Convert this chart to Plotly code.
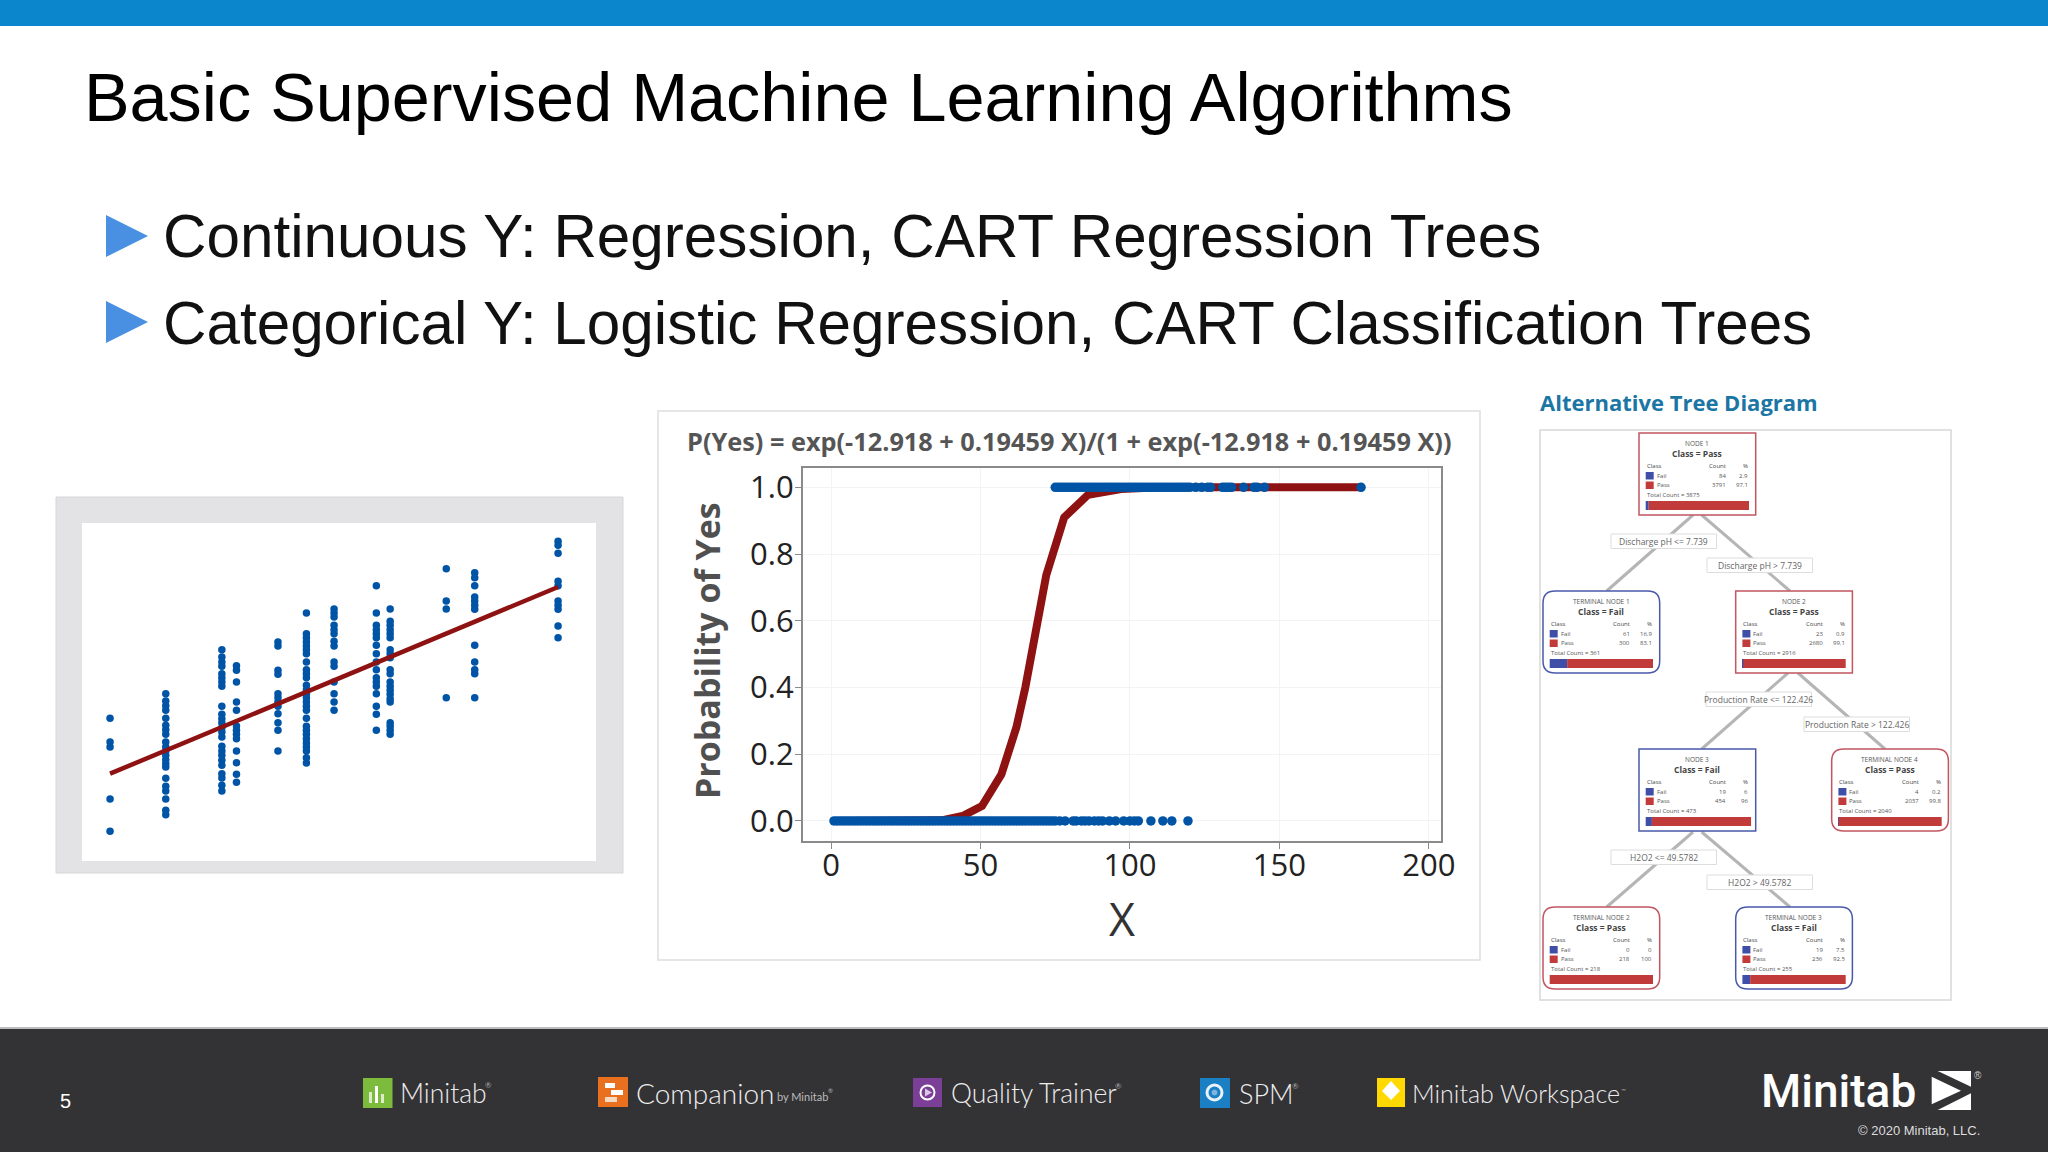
import plotly.graph_objects as go

W = 2048
H = 1152

# slide text
slide_title = "Basic Supervised Machine Learning Algorithms"
bullets = ["Continuous Y: Regression, CART Regression Trees",
           "Categorical Y: Logistic Regression, CART Classification Trees"]

# left scatter (no scale shown in the picture, units are arbitrary)
col_x = [177, 318, 460, 497, 602, 674, 744, 851, 886, 1028, 1100, 1311]
col_1 = [428, 357, 342, 186, 89]
col_2 = [502, 480, 466, 452, 428, 407, 394, 380, 357, 342, 330, 317, 304, 292, 282, 248, 224, 210, 186, 152, 139]
col_3 = [634, 612, 597, 584, 562, 550, 537, 524, 464, 440, 427, 414, 400, 387, 372, 344, 330, 317, 302, 287, 262, 249, 227, 210]
col_4 = [586, 572, 537, 477, 452, 405, 392, 380, 367, 330, 295, 260, 236]
col_5 = [657, 645, 572, 560, 502, 490, 477, 464, 442, 415, 392, 330]
col_6 = [744, 682, 670, 657, 645, 634, 622, 597, 574, 562, 550, 527, 514, 502, 490, 477, 464, 452, 428, 404, 392, 380, 367, 354, 342, 330, 310, 294]
col_7 = [756, 744, 732, 707, 694, 682, 659, 645, 597, 584, 537, 502, 477, 452]
col_8 = [826, 744, 707, 694, 682, 670, 647, 622, 597, 574, 550, 537, 524, 502, 464, 440, 392]
col_9 = [756, 719, 707, 694, 682, 670, 634, 622, 610, 574, 562, 537, 524, 512, 500, 487, 477, 415, 404, 392, 380]
col_10 = [877, 780, 756, 490]
col_11 = [865, 850, 826, 792, 780, 767, 755, 647, 597, 574, 562, 490]
col_12 = [959, 947, 923, 839, 826, 780, 767, 755, 705, 670]
columns = [col_1, col_2, col_3, col_4, col_5, col_6, col_7, col_8, col_9, col_10, col_11, col_12]
fit_x = [177, 460, 744, 1028, 1311]
fit_y = [262, 402, 542, 682, 822]

# logistic chart
logit_title = "P(Yes) = exp(-12.918 + 0.19459 X)/(1 + exp(-12.918 + 0.19459 X))"
curve_x = [1, 37, 44, 50.5, 57, 62, 65, 69, 72, 78, 86, 97, 110, 178]
curve_p = [0, 0.002, 0.015, 0.045, 0.14, 0.28, 0.40, 0.607, 0.737, 0.91, 0.978, 0.995, 1, 1]
no_x = [1, 2, 3, 4, 5, 6, 7, 8, 9, 10, 11, 12, 13, 14, 15, 16, 17, 18, 19, 20, 21, 22, 23, 24, 25,
        26, 27, 28, 29, 30, 31, 32, 33, 34, 35, 36, 37, 38, 39, 40, 41, 42, 43, 44, 45, 46, 47, 48, 49,
        50, 51, 52, 53, 54, 55, 56, 57, 58, 59, 60, 61, 62, 63, 64, 65, 66, 67, 68, 69, 70, 71, 72, 73,
        74, 75, 76.5, 78.3, 81, 82, 83.8, 85, 86.3, 88.1, 89.5, 90.8, 93.1, 95.2, 97.9, 100, 101.5,
        102.8, 107, 111, 114, 119.4]
yes_x = [75, 76, 77, 78, 79, 80, 81, 82, 83, 84, 85, 86, 87, 88, 89, 90, 91, 92, 93, 94, 95, 96, 97, 98,
         99, 100, 101, 102, 103, 104, 105, 106, 107, 108, 109, 110, 111, 112, 113, 114, 115, 116, 117,
         118, 119, 120, 122, 124, 126, 127, 131, 132, 133, 134, 138, 141.5, 142.5, 145, 177.3]
x_ticks = [0, 50, 100, 150, 200]
y_ticks = [0.0, 0.2, 0.4, 0.6, 0.8, 1.0]

# tree diagram
node_names = ["NODE 1", "TERMINAL NODE 1", "NODE 2", "NODE 3", "TERMINAL NODE 4", "TERMINAL NODE 2", "TERMINAL NODE 3"]
node_class = ["Pass", "Fail", "Pass", "Fail", "Pass", "Pass", "Fail"]
fail_count = [84, 61, 23, 19, 4, 0, 19]
pass_count = [3791, 300, 2680, 454, 2037, 218, 236]
fail_pct = [2.9, 16.9, 0.9, 6, 0.2, 0, 7.5]
pass_pct = [97.1, 83.1, 99.1, 96, 99.8, 100, 92.5]
total_count = [3875, 361, 2916, 473, 2040, 218, 255]
split_labels = ["Discharge pH <= 7.739", "Discharge pH > 7.739", "Production Rate <= 122.426",
                "Production Rate > 122.426", "H2O2 <= 49.5782", "H2O2 > 49.5782"]

# tree layout, in page pixels
node_left = [1639, 1543, 1735.7, 1639, 1831.7, 1543, 1735.7]
node_top = [433, 591, 591, 749, 749, 907, 907]
node_round = [False, True, False, False, True, True, True]
split_left = [1611, 1707, 1706, 1804, 1611, 1707]
split_top = [534, 558, 692, 717, 850, 875]
links = [(1693, 515, 1606.7, 591), (1701.7, 515, 1790, 591), (1788, 673, 1701.7, 749),
         (1798, 673, 1885, 749), (1693, 832, 1606.7, 907), (1701.7, 832, 1790, 907)]

BLUE = "#0054A6"
RED = "#8E1212"
TREE_BLUE = "#3F4FA8"
TREE_RED = "#C23B3B"
EDGE_BLUE = "#4A5AA8"
EDGE_RED = "#C25560"
DARK = "#333235"


def X(px):
    return px / W


def Y(py):
    return 1 - py / H


shapes = []
notes = []


def rect(x0, y0, x1, y1, fill, line=None, lw=1, layer="below"):
    shapes.append(dict(type="rect", xref="paper", yref="paper", x0=X(x0), x1=X(x1), y0=Y(y0), y1=Y(y1),
                       fillcolor=fill, line=dict(color=line or fill, width=lw if line else 0), layer=layer))


def poly(points, fill, layer="below"):
    path = "M " + " L ".join(f"{X(a):.5f} {Y(b):.5f}" for a, b in points) + " Z"
    shapes.append(dict(type="path", xref="paper", yref="paper", path=path, fillcolor=fill, line=dict(width=0), layer=layer))


def seg(x0, y0, x1, y1, color, lw):
    shapes.append(dict(type="line", xref="paper", yref="paper", x0=X(x0), x1=X(x1), y0=Y(y0), y1=Y(y1),
                       line=dict(color=color, width=lw), layer="below"))


def ring(cx, cy, r, color, lw, fill="rgba(0,0,0,0)"):
    shapes.append(dict(type="circle", xref="paper", yref="paper", x0=X(cx - r), x1=X(cx + r), y0=Y(cy + r), y1=Y(cy - r),
                       fillcolor=fill, line=dict(color=color, width=lw), layer="below"))


def round_box(x0, y0, x1, y1, r, line):
    p = [("M", x0 + r, y0), ("L", x1 - r, y0), ("Q", x1, y0, x1, y0 + r), ("L", x1, y1 - r), ("Q", x1, y1, x1 - r, y1),
         ("L", x0 + r, y1), ("Q", x0, y1, x0, y1 - r), ("L", x0, y0 + r), ("Q", x0, y0, x0 + r, y0)]
    out = []
    for c in p:
        vals = c[1:]
        pairs = [f"{X(vals[i]):.5f} {Y(vals[i + 1]):.5f}" for i in range(0, len(vals), 2)]
        out.append(c[0] + " " + " ".join(pairs))
    shapes.append(dict(type="path", xref="paper", yref="paper", path=" ".join(out) + " Z", fillcolor="white",
                       line=dict(color=line, width=1.5), layer="below"))


def note(x, y, text, size, color="#000000", font="Liberation Sans", anchor="left", angle=0, weight=None):
    f = dict(size=size, color=color, family=font)
    if weight:
        f["weight"] = weight
    notes.append(dict(xref="paper", yref="paper", x=X(x), y=Y(y), text=text, showarrow=False, xanchor=anchor,
                      yanchor="middle", textangle=angle, borderpad=0, font=f))


# slide frame
rect(0, 0, W, 26, "#0B85CB")
rect(0, 1027, W, 1029, "#BDBDBD")
rect(0, 1029, W, H, DARK)
note(83, 97, slide_title, 68.36)
for text, cy, ty in zip(bullets, [236, 322], [236, 323]):
    note(162, ty, text, 60.2, "#111111")
    poly([(106, cy - 21), (148, cy), (106, cy + 21)], "#4A90E2")

# panels
rect(56, 497, 623, 873, "#E3E3E6", "#D6D6D9")
rect(82, 523, 596, 861, "#FFFFFF")
rect(658, 411, 1480, 960, "#FFFFFF", "#DEDEDE", 1.5)
note(1069, 441, f"<b>{logit_title}</b>", 25.3, "#555555", "Open Sans", "center")
note(707, 651, "<b>Probability of Yes</b>", 34, "#505050", "Open Sans", "center", -90)
note(1122, 918, "X", 45, "#333333", "Open Sans", "center")

# tree diagram
note(1539, 402, "<b>Alternative Tree Diagram</b>", 22, "#1B75A5", "Open Sans", "left")
rect(1540, 430, 1951, 1000, "#FFFFFF", "#D8D8D8", 1.5)
for x0, y0, x1, y1 in links:
    seg(x0, y0, x1, y1, "#B5B5B5", 3)
for i, label in enumerate(split_labels):
    rect(split_left[i], split_top[i], split_left[i] + 105.5, split_top[i] + 14.5, "#FFFFFF", "#DDDDDD", 1)
    note(split_left[i] + 52.7, split_top[i] + 7.5, label, 8.5, "#666666", "Open Sans", "center")
for i, name in enumerate(node_names):
    left = node_left[i]
    top = node_top[i]
    edge = EDGE_RED if node_class[i] == "Pass" else EDGE_BLUE
    if node_round[i]:
        round_box(left, top, left + 116.7, top + 82, 12, edge)
    else:
        rect(left, top, left + 116.7, top + 82, "#FFFFFF", edge, 1.5)
    mid = left + 58
    note(mid, top + 10, name, 6.5, "#555555", "Open Sans", "center")
    note(mid, top + 20, f"<b>Class = {node_class[i]}</b>", 8.5, "#444444", "Open Sans", "center")
    note(left + 6.7, top + 33, "Class", 6, "#444444", "Open Sans")
    note(left + 88, top + 33, "Count", 6, "#444444", "Open Sans", "right")
    note(left + 110, top + 33, "%", 6, "#444444", "Open Sans", "right")
    rect(left + 6.7, top + 39, left + 14.7, top + 46.5, TREE_BLUE, layer="above")
    rect(left + 6.7, top + 48.5, left + 14.7, top + 56, TREE_RED, layer="above")
    note(left + 16.5, top + 42.5, "Fail", 6, "#555555", "Open Sans")
    note(left + 16.5, top + 52, "Pass", 6, "#555555", "Open Sans")
    note(left + 88, top + 42.5, str(fail_count[i]), 6, "#555555", "Open Sans", "right")
    note(left + 88, top + 52, str(pass_count[i]), 6, "#555555", "Open Sans", "right")
    note(left + 110, top + 42.5, str(fail_pct[i]), 6, "#555555", "Open Sans", "right")
    note(left + 110, top + 52, str(pass_pct[i]), 6, "#555555", "Open Sans", "right")
    note(left + 6.7, top + 62, f"Total Count = {total_count[i]}", 6, "#555555", "Open Sans")

# footer
TXT = "#EDEDED"
note(59, 1101, "5", 20, "#FFFFFF")
rect(363, 1078, 392.5, 1108, "#7DBB3C")
rect(369, 1092, 372, 1103, "#DDEBC8")
rect(375, 1086, 378, 1103, "#FFFFFF")
rect(381, 1094, 384, 1103, "#DDEBC8")
note(399, 1093, "Minitab", 26.5, TXT, "Lato", weight=300)
note(484, 1085, "®", 8, "#AAAAAA", "Lato")
rect(598, 1077, 628, 1107, "#E8701F")
rect(605, 1083, 615, 1088, "#FFFFFF")
rect(611, 1090, 623, 1095, "#FFFFFF")
rect(605, 1097, 617, 1102, "#F7D9C2")
note(635, 1093, "Companion", 28, TXT, "Lato", weight=300)
note(776, 1096, "by Minitab", 11, "#BBBBBB", "Lato")
note(827, 1090, "®", 6, "#BBBBBB", "Lato")
rect(913, 1078, 942, 1107, "#7B3F98")
ring(927.5, 1092.5, 7, "#FFFFFF", 2)
poly([(925, 1088.5), (932, 1092.5), (925, 1096.5)], "#D8C8E4")
note(950, 1093, "Quality Trainer", 26.5, TXT, "Lato", weight=300)
note(1114, 1086, "®", 8, "#AAAAAA", "Lato")
rect(1200, 1078, 1230, 1108, "#1B7FC4")
ring(1214.5, 1092.5, 7.5, "#E8F2FA", 3)
ring(1214.5, 1092.5, 2.5, "#7FB6DF", 1, "#7FB6DF")
note(1238, 1093, "SPM", 27, TXT, "Lato", weight=300)
note(1291, 1086, "®", 8, "#AAAAAA", "Lato")
rect(1377, 1078, 1405, 1107, "#FFD900")
poly([(1391, 1081), (1400, 1091), (1391, 1100), (1382, 1091)], "#FFFFFF")
note(1411, 1093, "Minitab Workspace", 25, TXT, "Lato", weight=300)
note(1620, 1090, "™", 6, "#AAAAAA", "Lato")
note(1760, 1091, "Minitab", 46, "#FFFFFF", "Roboto", weight=500)
poly([(1937.7, 1071), (1971, 1071), (1971, 1086.7)], "#FFFFFF")
poly([(1931.7, 1076.7), (1961, 1090.7), (1931.7, 1104.3)], "#FFFFFF")
poly([(1971, 1093.3), (1971, 1110), (1937.7, 1110)], "#FFFFFF")
note(1973, 1075, "®", 10, "#CCCCCC")
note(1981, 1130, "© 2020 Minitab, LLC.", 13, "#DDDDDD", "Liberation Sans", "right")

scatter_x = []
scatter_y = []
for cx, cy in zip(col_x, columns):
    scatter_x += [cx] * len(cy)
    scatter_y += cy

fig = go.Figure()
fig.add_trace(go.Scatter(x=scatter_x, y=scatter_y, mode="markers", marker=dict(color=BLUE, size=7.5), xaxis="x", yaxis="y"))
fig.add_trace(go.Scatter(x=fit_x, y=fit_y, mode="lines", line=dict(color=RED, width=4.5), xaxis="x", yaxis="y"))
fig.add_trace(go.Scatter(x=curve_x, y=curve_p, mode="lines", line=dict(color=RED, width=8), xaxis="x2", yaxis="y2"))
fig.add_trace(go.Scatter(x=no_x, y=[0] * len(no_x), mode="markers", marker=dict(color=BLUE, size=9.5), xaxis="x2", yaxis="y2"))
fig.add_trace(go.Scatter(x=yes_x, y=[1] * len(yes_x), mode="markers", marker=dict(color=BLUE, size=9.5), xaxis="x2", yaxis="y2"))

# count bars inside the tree boxes
bar_y = [t + 72.5 for t in node_top]
fail_w = [p * 1.033 for p in fail_pct]
pass_w = [p * 1.033 for p in pass_pct]
fail_base = [l + 6.7 for l in node_left]
pass_base = [b + w for b, w in zip(fail_base, fail_w)]
fig.add_trace(go.Bar(x=fail_w, y=bar_y, base=fail_base, orientation="h", width=9, marker=dict(color=TREE_BLUE, line=dict(width=0)), xaxis="x3", yaxis="y3"))
fig.add_trace(go.Bar(x=pass_w, y=bar_y, base=pass_base, orientation="h", width=9, marker=dict(color=TREE_RED, line=dict(width=0)), xaxis="x3", yaxis="y3"))

tick_font = dict(size=31, color="#222222", family="Open Sans")
fig.update_layout(
    width=W, height=H, autosize=False, margin=dict(l=0, r=0, t=0, b=0, autoexpand=False), showlegend=False, barmode="overlay",
    paper_bgcolor="white", plot_bgcolor="rgba(0,0,0,0)", shapes=shapes, annotations=notes,
    xaxis=dict(domain=[X(82), X(596)], range=[106, 1407], visible=False, anchor="y"),
    yaxis=dict(domain=[Y(861), Y(523)], range=[0, 1014], visible=False, anchor="x"),
    xaxis2=dict(domain=[X(802.6), X(1440.6)], range=[-9.5, 203.9], anchor="y2", tickvals=x_ticks, ticks="outside",
                ticklen=6, tickcolor="#8A8A8A", tickfont=tick_font, ticklabelstandoff=-10, showgrid=True, gridcolor="#F3F3F6",
                zeroline=False, showline=True, linecolor="#8A8A8A", linewidth=1.5, mirror=True),
    yaxis2=dict(domain=[Y(841), Y(468)], range=[-0.06, 1.058], anchor="x2", tickvals=y_ticks, tickformat=".1f", ticks="outside",
                ticklen=6, tickcolor="#8A8A8A", tickfont=tick_font, ticklabelstandoff=-5, showgrid=True, gridcolor="#F3F3F6",
                zeroline=False, showline=True, linecolor="#8A8A8A", linewidth=1.5, mirror=True),
    xaxis3=dict(domain=[X(1540), X(1951)], range=[1540, 1951], visible=False, anchor="y3"),
    yaxis3=dict(domain=[Y(1000), Y(430)], range=[1000, 430], visible=False, anchor="x3"),
)

# lock the page to the window size, nothing may stick out past it
fix_page = ("document.documentElement.style.overflow='hidden';"
            "document.body.style.cssText='margin:0;width:2048px;height:1152px;overflow:hidden;position:relative';")
fig.write_html("out.html", config=dict(displayModeBar=False), post_script=fix_page)
